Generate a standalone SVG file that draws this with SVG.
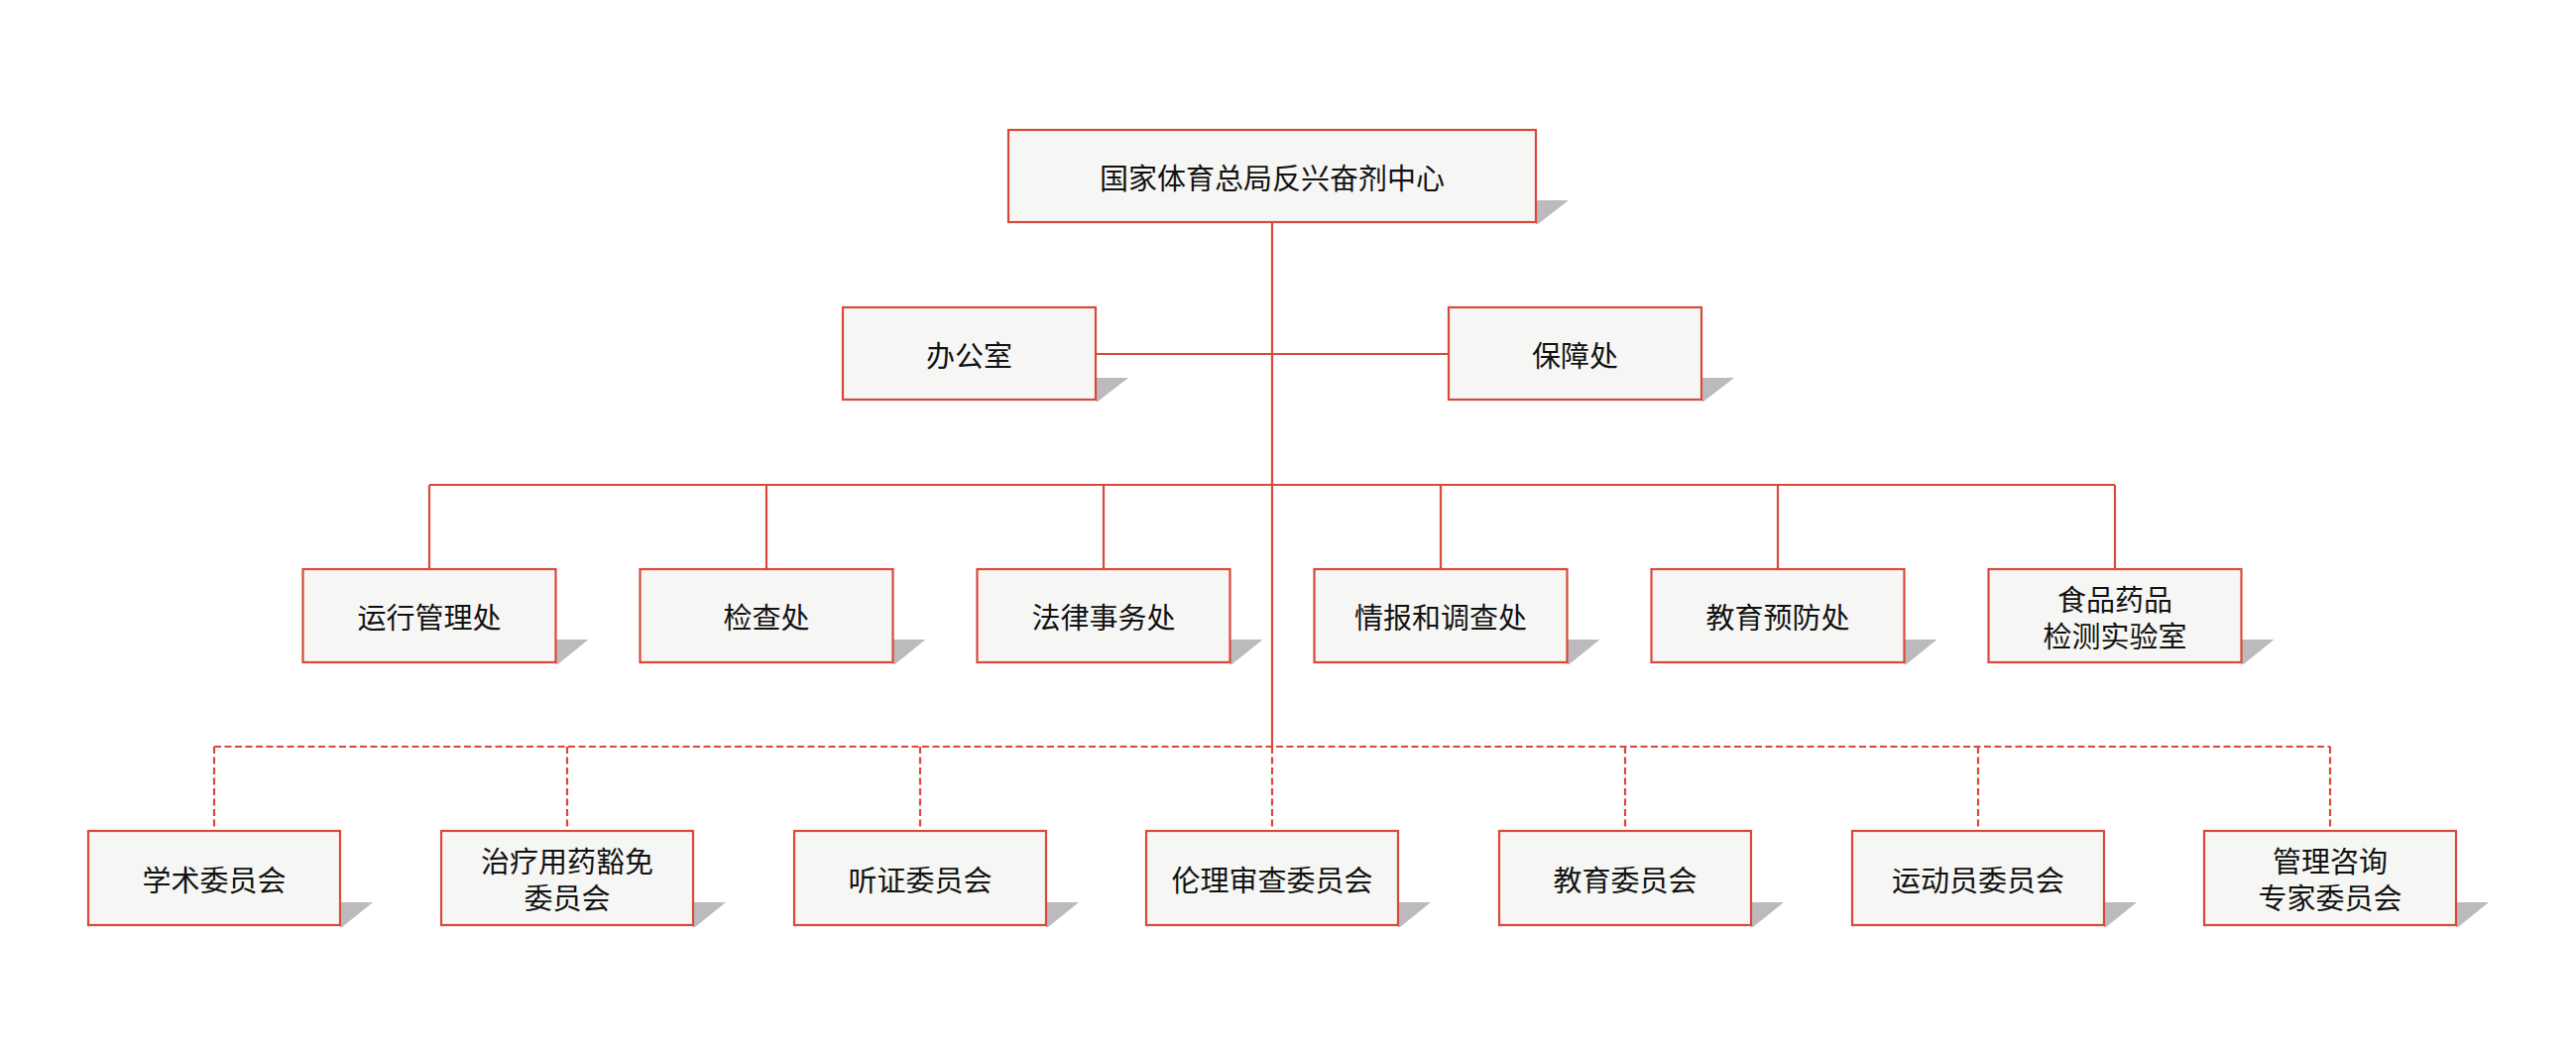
<svg xmlns="http://www.w3.org/2000/svg" width="2598" height="1063" viewBox="0 0 2598 1063">
<style>
.box{fill:#f6f6f4;stroke:#d9493a;stroke-width:2.2}
.sh{fill:#bdbabd}
.t{font-family:"Noto Sans CJK SC","Noto Sans",sans-serif;font-size:29px;fill:#111;text-anchor:middle;dominant-baseline:central}
.ln{stroke:#d9493a;stroke-width:2.2;fill:none}
.dl{stroke:#d9493a;stroke-width:2.2;fill:none;stroke-dasharray:7 3.5}
</style>
<rect width="2598" height="1063" fill="#ffffff"/>
<g id="connectors">
<line class="ln" x1="1283" y1="224" x2="1283" y2="753"/>
<line class="ln" x1="1105" y1="357" x2="1461" y2="357"/>
<line class="ln" x1="433" y1="489" x2="2133" y2="489"/>
<line class="ln" x1="433" y1="489" x2="433" y2="574"/>
<line class="ln" x1="773" y1="489" x2="773" y2="574"/>
<line class="ln" x1="1113" y1="489" x2="1113" y2="574"/>
<line class="ln" x1="1453" y1="489" x2="1453" y2="574"/>
<line class="ln" x1="1793" y1="489" x2="1793" y2="574"/>
<line class="ln" x1="2133" y1="489" x2="2133" y2="574"/>
<line class="dl" x1="216" y1="753" x2="2350" y2="753"/>
<line class="dl" x1="216" y1="753" x2="216" y2="838"/>
<line class="dl" x1="572" y1="753" x2="572" y2="838"/>
<line class="dl" x1="928" y1="753" x2="928" y2="838"/>
<line class="dl" x1="1283" y1="753" x2="1283" y2="838"/>
<line class="dl" x1="1639" y1="753" x2="1639" y2="838"/>
<line class="dl" x1="1995" y1="753" x2="1995" y2="838"/>
<line class="dl" x1="2350" y1="753" x2="2350" y2="838"/>
</g>
<g id="n-top">
<polygon class="sh" points="1549,202 1582,202 1551,226 1549,226"/>
<rect class="box" x="1017" y="131" width="532" height="93"/>
<text class="t" x="1283" y="177.5">国家体育总局反兴奋剂中心</text>
</g>
<g id="n-bgs">
<polygon class="sh" points="1105,381 1138,381 1107,405 1105,405"/>
<rect class="box" x="850" y="310" width="255" height="93"/>
<text class="t" x="977.5" y="356.5">办公室</text>
</g>
<g id="n-bzc">
<polygon class="sh" points="1716,381 1749,381 1718,405 1716,405"/>
<rect class="box" x="1461" y="310" width="255" height="93"/>
<text class="t" x="1588.5" y="356.5">保障处</text>
</g>
<g id="n-yxgl">
<polygon class="sh" points="560.5,645 593.5,645 562.5,670 560.5,670"/>
<rect class="box" x="305.5" y="574" width="255" height="94"/>
<text class="t" x="433" y="621">运行管理处</text>
</g>
<g id="n-jcc">
<polygon class="sh" points="900.5,645 933.5,645 902.5,670 900.5,670"/>
<rect class="box" x="645.5" y="574" width="255" height="94"/>
<text class="t" x="773" y="621">检查处</text>
</g>
<g id="n-flsw">
<polygon class="sh" points="1240.5,645 1273.5,645 1242.5,670 1240.5,670"/>
<rect class="box" x="985.5" y="574" width="255" height="94"/>
<text class="t" x="1113" y="621">法律事务处</text>
</g>
<g id="n-qbdc">
<polygon class="sh" points="1580.5,645 1613.5,645 1582.5,670 1580.5,670"/>
<rect class="box" x="1325.5" y="574" width="255" height="94"/>
<text class="t" x="1453" y="621">情报和调查处</text>
</g>
<g id="n-jyyf">
<polygon class="sh" points="1920.5,645 1953.5,645 1922.5,670 1920.5,670"/>
<rect class="box" x="1665.5" y="574" width="255" height="94"/>
<text class="t" x="1793" y="621">教育预防处</text>
</g>
<g id="n-spyp">
<polygon class="sh" points="2260.5,645 2293.5,645 2262.5,670 2260.5,670"/>
<rect class="box" x="2005.5" y="574" width="255" height="94"/>
<text class="t" x="2133" y="602.5">食品药品</text>
<text class="t" x="2133" y="639.5">检测实验室</text>
</g>
<g id="n-xs">
<polygon class="sh" points="343,910 376,910 345,935 343,935"/>
<rect class="box" x="89" y="838" width="254" height="95"/>
<text class="t" x="216" y="885.5">学术委员会</text>
</g>
<g id="n-zlyy">
<polygon class="sh" points="699,910 732,910 701,935 699,935"/>
<rect class="box" x="445" y="838" width="254" height="95"/>
<text class="t" x="572" y="867">治疗用药豁免</text>
<text class="t" x="572" y="904">委员会</text>
</g>
<g id="n-tz">
<polygon class="sh" points="1055,910 1088,910 1057,935 1055,935"/>
<rect class="box" x="801" y="838" width="254" height="95"/>
<text class="t" x="928" y="885.5">听证委员会</text>
</g>
<g id="n-llsc">
<polygon class="sh" points="1410,910 1443,910 1412,935 1410,935"/>
<rect class="box" x="1156" y="838" width="254" height="95"/>
<text class="t" x="1283" y="885.5">伦理审查委员会</text>
</g>
<g id="n-jy">
<polygon class="sh" points="1766,910 1799,910 1768,935 1766,935"/>
<rect class="box" x="1512" y="838" width="254" height="95"/>
<text class="t" x="1639" y="885.5">教育委员会</text>
</g>
<g id="n-ydy">
<polygon class="sh" points="2122,910 2155,910 2124,935 2122,935"/>
<rect class="box" x="1868" y="838" width="254" height="95"/>
<text class="t" x="1995" y="885.5">运动员委员会</text>
</g>
<g id="n-glzx">
<polygon class="sh" points="2477,910 2510,910 2479,935 2477,935"/>
<rect class="box" x="2223" y="838" width="254" height="95"/>
<text class="t" x="2350" y="867">管理咨询</text>
<text class="t" x="2350" y="904">专家委员会</text>
</g>
</svg>
